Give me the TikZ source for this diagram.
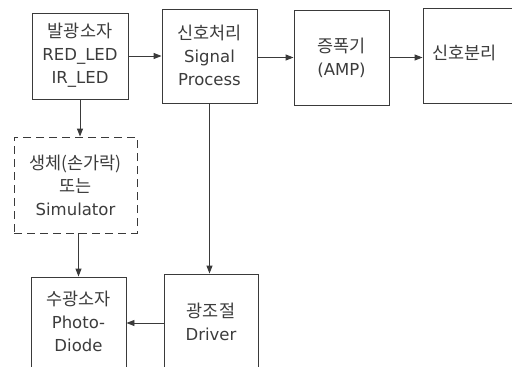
\documentclass[tikz,border=0pt]{standalone}
\usepackage{fontspec}
\setmainfont{DejaVu Sans}
\newfontfamily\kr{Noto Sans CJK KR}[Scale=1.06]
\usetikzlibrary{arrows.meta}
\definecolor{linegray}{HTML}{3A3A3A}
\definecolor{textgray}{HTML}{3C3C3C}
\tikzset{
  blk/.style={draw=linegray, line width=0.9pt, rectangle, inner sep=0pt},
  dashblk/.style={blk, dash pattern=on 8pt off 5pt},
  lbl/.style={text=textgray, align=center, inner sep=0pt,
    font=\fontsize{16.5}{23}\selectfont},
  link/.style={draw=linegray, line width=0.9pt,
    -{Triangle[length=8pt,width=6pt]}},
}
\begin{document}
\begin{tikzpicture}[x=1pt,y=-1pt]
\useasboundingbox (0,0) rectangle (512,367);
\clip (0,0) rectangle (512,367);
% top row
\node[blk, minimum width=96pt, minimum height=86pt] (emit) at (80,56) {};
\node[lbl] (emitl) at (80,55.5) {{\kr 발광소자}\\RED\_LED\\IR\_LED};
\node[blk, minimum width=95pt, minimum height=94pt] (proc) at (209.5,56) {};
\node[lbl] (procl) at (209.5,55.5) {{\kr 신호처리}\\Signal\\Process};
\node[blk, minimum width=95pt, minimum height=95pt] (amp) at (341.5,57.5) {};
\node[lbl] (ampl) at (341.5,57.5) {{\kr 증폭기}\\(AMP)};
\node[blk, minimum width=95pt, minimum height=95pt] (sep) at (470.5,55.5) {};
\node[lbl, anchor=west] (sepl) at (432,53) {\kr 신호분리};
% middle: finger or simulator
\node[dashblk, minimum width=123pt, minimum height=96pt] (sim) at (75.5,185) {};
\node[lbl] (siml) at (75.5,185) {{\kr 생체(손가락)}\\{\kr 또는}\\Simulator};
% bottom row
\node[blk, minimum width=95pt, minimum height=95pt] (pd) at (78.5,324.5) {};
\node[lbl] (pdl) at (78.5,321.5) {{\kr 수광소자}\\Photo-\\Diode};
\node[blk, minimum width=94pt, minimum height=98pt] (drv) at (211,323) {};
\node[lbl] (drvl) at (211,321.5) {{\kr 광조절}\\Driver};
% connectors
\draw[link] (emit.east) -- (emit.east -| proc.west);
\draw[link] (proc.east |- amp.center) -- (amp.west);
\draw[link] (amp.east) -- (amp.east -| sep.west);
\draw[link] (emit.south) -- (emit.south |- sim.north);
\draw[link] (sim.south -| pd.north) -- (pd.north);
\draw[link] (proc.south) -- (proc.south |- drv.north);
\draw[link] (drv.west) -- (drv.west -| pd.east);
\end{tikzpicture}
\end{document}
